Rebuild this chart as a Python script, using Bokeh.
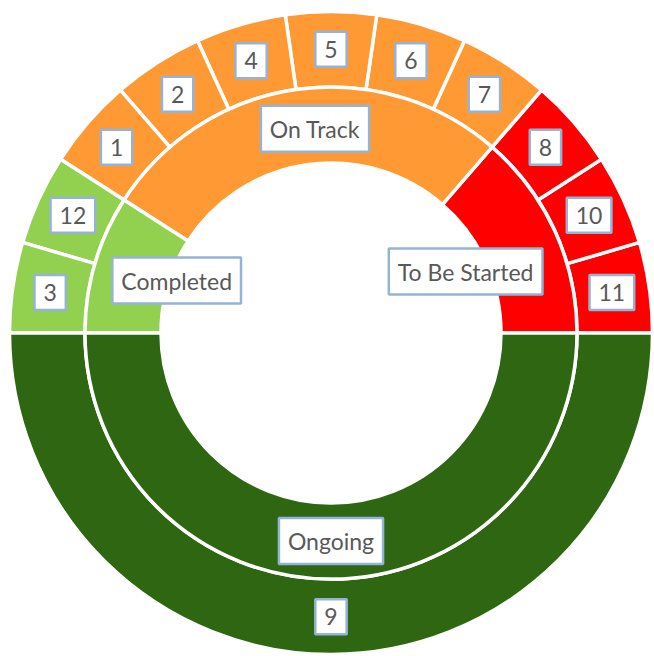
import math
from bokeh.plotting import figure
from bokeh.models import ColumnDataSource, Range1d
from bokeh.embed import file_html
from bokeh.resources import INLINE
from bokeh.core.properties import value

# ---- data ----
groups = ["To Be Started", "On Track", "Completed", "Ongoing"]
group_colors = ["#FF0000", "#FF9933", "#92D050", "#2F6612"]
items = ["11", "10", "8", "7", "6", "5", "4", "2", "1", "12", "3", "9"]
item_groups = ["To Be Started", "To Be Started", "To Be Started",
               "On Track", "On Track", "On Track", "On Track", "On Track", "On Track",
               "Completed", "Completed", "Ongoing"]
item_values = [1, 1, 1, 1, 1, 1, 1, 1, 1, 1, 1, 11]

# ---- layout (pixels) ----
W, H = 654, 656
cx, cy = 330.5, 323.5
r_hole, r_mid, r_out = 170, 246, 321.5
group_label_r = [148, 205, 163, 208]
group_label_dtheta = [0.0, -3.7, -2.4, 0.0]  # degrees

total = sum(item_values)
color_of = dict(zip(groups, group_colors))

# item wedges
starts, ends, cum = [], [], 0.0
for v in item_values:
    starts.append(2 * math.pi * cum / total)
    cum += v
    ends.append(2 * math.pi * cum / total)
item_mid = [(a + b) / 2 for a, b in zip(starts, ends)]
r_item_lab = (r_mid + r_out) / 2
item_src = ColumnDataSource(dict(
    start=starts, end=ends, color=[color_of[g] for g in item_groups],
    label=items,
    lx=[cx + r_item_lab * math.cos(m) for m in item_mid],
    ly=[cy + r_item_lab * math.sin(m) for m in item_mid],
))

# group wedges
g_start, g_end = [], []
for g in groups:
    idx = [i for i, ig in enumerate(item_groups) if ig == g]
    g_start.append(starts[idx[0]])
    g_end.append(ends[idx[-1]])
g_mid = [(a + b) / 2 + math.radians(d) for a, b, d in zip(g_start, g_end, group_label_dtheta)]
grp_src = ColumnDataSource(dict(
    start=g_start, end=g_end, color=group_colors, label=groups,
    lx=[cx + r * math.cos(m) for r, m in zip(group_label_r, g_mid)],
    ly=[cy + r * math.sin(m) for r, m in zip(group_label_r, g_mid)],
))

p = figure(width=W, height=H, output_backend="svg", toolbar_location=None,
           x_range=Range1d(0, W), y_range=Range1d(0, H), min_border=0)
p.axis.visible = False
p.grid.visible = False
p.outline_line_color = None
p.background_fill_color = "white"

p.annular_wedge(x=cx, y=cy, inner_radius=r_mid, outer_radius=r_out,
                start_angle="start", end_angle="end", fill_color="color",
                line_color="white", line_width=3.5, source=item_src)
p.annular_wedge(x=cx, y=cy, inner_radius=r_hole, outer_radius=r_mid,
                start_angle="start", end_angle="end", fill_color="color",
                line_color="white", line_width=3.5, source=grp_src)

lab_kw = dict(text_font=value("Lato"), text_font_size="23px", text_color="#595959",
              text_align="center", text_baseline="middle",
              background_fill_color="white", border_line_color="#95B3D7",
              border_line_width=2.5, padding=9)
p.text(x="lx", y="ly", text="label", source=item_src, **lab_kw)
p.text(x="lx", y="ly", text="label", source=grp_src, **lab_kw)

open("out.html", "w").write(file_html(p, INLINE))
